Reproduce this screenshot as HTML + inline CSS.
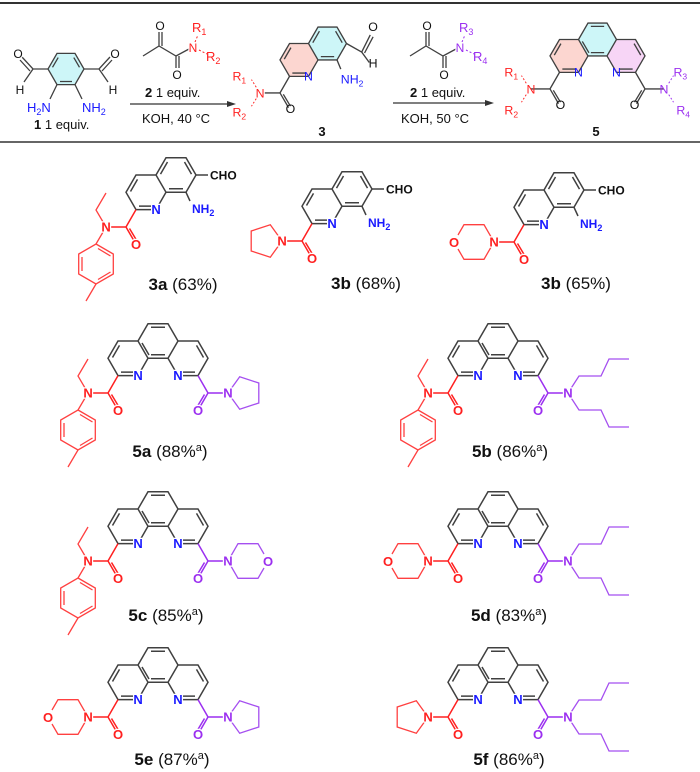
<!DOCTYPE html>
<html><head><meta charset="utf-8"><style>
html,body{margin:0;padding:0;background:#fff;}
svg{display:block;font-family:"Liberation Sans",sans-serif;}
.a{font-size:12px;text-anchor:middle;stroke:#fff;stroke-width:2.5;paint-order:stroke;stroke-linejoin:round;}
g .a{font-size:13px;font-weight:bold;}
.b{fill:#1a1aff}.r{fill:#ff2020}.p{fill:#9b2ff0}.k{fill:#111}
.lab{font-size:17px;text-anchor:middle;fill:#111}
.s{font-size:13px;fill:#111}
</style></head><body>
<svg width="700" height="772" viewBox="0 0 700 772" xmlns="http://www.w3.org/2000/svg">
<defs>
<path id="quin" fill="none" d="M10,-17.3 L20,0 L10,17.3 L-10,17.3 L-20,0 L-10,-17.3 Z M-10,17.3 L-20,34.6 L-40,34.6 L-50,17.3 L-40,0 L-20,0 M8.5,-12.95 L15.5,-0.85 M7,13.8 L-7,13.8 M-8.5,-12.95 L-15.5,-0.85 M-45.5,16.45 L-38.5,4.35 M-37,31.1 L-23,31.1"/>
<path id="phen" fill="none" d="M-10,-17.3 L10,-17.3 L20,0 L10,17.3 L-10,17.3 L-20,0 Z M-20,0 L-40,0 L-50,17.3 L-40,34.6 L-20,34.6 L-10,17.3 M20,0 L40,0 L50,17.3 L40,34.6 L20,34.6 L10,17.3 M-7,-13.8 L7,-13.8 M-7,13.8 L7,13.8 M-45.5,16.45 L-38.5,4.35 M-37,31.1 L-23,31.1 M45.5,16.45 L38.5,4.35 M37,31.1 L23,31.1 M-16,2 L-9,14"/>
<path id="amL" fill="none" d="M-40,34.6 L-50,52 L-41,67.5 M-46.5,53.5 L-39,66 M-50,52 L-70,52"/>
<path id="amR" fill="none" d="M40,34.6 L50,52 L41,67.5 M46.5,53.5 L39,66 M50,52 L70,52"/>
<path id="etolL" fill="none" d="M-70,52 L-80,35 L-70,18 M-70,52 L-80,69 M-80,69 L-62.7,79 L-62.7,99 L-80,109 L-97.3,99 L-97.3,79 Z M-80,109 L-90,126 M-78,73.5 L-65.5,81 M-65.5,97 L-78,104.5 M-94,82 L-94,96"/>
<path id="pyrL" fill="none" d="M-70,52 L-81.7,68.2 L-100.8,62 L-100.8,42 L-81.7,35.8 Z"/>
<path id="pyrR" fill="none" d="M70,52 L81.7,68.2 L100.8,62 L100.8,42 L81.7,35.8 Z"/>
<path id="morL" fill="none" d="M-106,45 L-100,34.7 L-80,34.7 L-70,52 L-80,69.3 L-100,69.3 L-106,59"/>
<path id="morR" fill="none" d="M106,45 L100,34.7 L80,34.7 L70,52 L80,69.3 L100,69.3 L106,59"/>
<path id="buR" fill="none" d="M70,52 L81,35 L103,35 L111,18 L131,18 M70,52 L81,69 L103,69 L111,86 L131,86"/>
</defs>

<line x1="0" y1="3" x2="700" y2="3" stroke="#333" stroke-width="2"/>
<line x1="0" y1="142" x2="700" y2="142" stroke="#333" stroke-width="1.6"/>

<!-- compound 1 -->
<g stroke="#404040" stroke-width="1.3" fill="none">
<polygon points="57,53.4 75,53.4 84,69 75,84.6 57,84.6 48,69" fill="#cdf6f8"/>
<path d="M73.8,57.6 L79.5,67.3 M58.2,57.6 L52.5,67.3 M60,81.5 L72,81.5 M48,69 L33,69 L22,57 M30,71 L20,60 M33,69 L24,82 M84,69 L99,69 L110,57 M102,71 L112,60 M99,69 L108,82 M57,84.6 L50,99 M75,84.6 L82,99"/>
</g>
<text x="18" y="58" class="a k" font-size="13">O</text>
<text x="115" y="58" class="a k" font-size="13">O</text>
<text x="20" y="94" class="a k" font-size="13">H</text>
<text x="113" y="94" class="a k" font-size="13">H</text>
<text x="27" y="112" class="b" font-size="13">H<tspan font-size="9" dy="3">2</tspan><tspan dy="-3">N</tspan></text>
<text x="82" y="112" class="b" font-size="13">NH<tspan font-size="9" dy="3">2</tspan></text>
<text x="34" y="129" class="s"><tspan font-weight="bold">1</tspan>  1 equiv.</text>

<!-- reagent 2 (first) -->
<g stroke="#404040" stroke-width="1.3" fill="none">
<path d="M143,56 L159,46 L176,56 L189,49 M159,46 L159,32 M162,46 L162,32 M176,56 L176,68 M179,56 L179,68"/>
</g>
<g stroke="#ff2020" stroke-width="1" stroke-dasharray="2,2" fill="none"><path d="M195,42 L198,35 M199,50 L207,54"/></g>
<text x="160" y="30" class="a k" font-size="13">O</text>
<text x="177" y="79" class="a k" font-size="13">O</text>
<text x="193" y="52" class="a r" font-size="13">N</text>
<text x="192" y="32" class="r" font-size="13">R<tspan font-size="9" dy="3">1</tspan></text>
<text x="206" y="61" class="r" font-size="13">R<tspan font-size="9" dy="3">2</tspan></text>
<text x="145" y="97" class="s"><tspan font-weight="bold">2</tspan>  1 equiv.</text>
<line x1="130" y1="104" x2="229" y2="104" stroke="#333" stroke-width="1.2"/>
<polygon points="236,104 227,101 227,107" fill="#333"/>
<text x="142" y="123" class="s">KOH, 40 °C</text>

<!-- compound 3 (top) -->
<g transform="translate(327.5,43.5) scale(0.95)">
<polygon points="-10,17.3 -20,34.6 -40,34.6 -50,17.3 -40,0 -20,0" fill="#fcd6d0"/>
<polygon points="10,-17.3 20,0 10,17.3 -10,17.3 -20,0 -10,-17.3" fill="#cdf6f8"/>
<use href="#quin" stroke="#404040" stroke-width="1.4"/>
<path d="M20,0 L36,9 L45,-9 M39,10 L48,-7 M36,9 L44,20 M10,17.3 L14,27 M-40,34.6 L-50,52 L-41,67.5 M-46.5,53.5 L-39,66 M-50,52 L-66,52" stroke="#404040" stroke-width="1.4" fill="none"/>
<path d="M-75,46 L-80,38 M-75,58 L-80,66" stroke="#ff2020" stroke-width="1" stroke-dasharray="2,2" fill="none"/>
<text x="-20" y="39" class="b" font-size="13" text-anchor="middle">N</text>
<text x="48" y="-13" class="k" font-size="13" text-anchor="middle">O</text>
<text x="48" y="25" class="k" font-size="13" text-anchor="middle">H</text>
<text x="14" y="42" class="b" font-size="13">NH<tspan font-size="9" dy="3">2</tspan></text>
<text x="-39" y="73" class="k" font-size="13" text-anchor="middle">O</text>
<text x="-71" y="57" class="r" font-size="13" text-anchor="middle">N</text>
<text x="-100" y="39" class="r" font-size="13">R<tspan font-size="9" dy="3">1</tspan></text>
<text x="-100" y="77" class="r" font-size="13">R<tspan font-size="9" dy="3">2</tspan></text>
</g>
<text x="322" y="136" class="s" font-weight="bold" text-anchor="middle">3</text>

<!-- reagent 2 (second) -->
<g stroke="#404040" stroke-width="1.3" fill="none">
<path d="M410,56 L426,46 L443,56 L456,49 M426,46 L426,32 M429,46 L429,32 M443,56 L443,68 M446,56 L446,68"/>
</g>
<g stroke="#9b2ff0" stroke-width="1" stroke-dasharray="2,2" fill="none"><path d="M462,42 L465,35 M466,50 L474,54"/></g>
<text x="427" y="30" class="a k" font-size="13">O</text>
<text x="444" y="79" class="a k" font-size="13">O</text>
<text x="460" y="52" class="a p" font-size="13">N</text>
<text x="459" y="32" class="p" font-size="13">R<tspan font-size="9" dy="3">3</tspan></text>
<text x="473" y="61" class="p" font-size="13">R<tspan font-size="9" dy="3">4</tspan></text>
<text x="410" y="97" class="s"><tspan font-weight="bold">2</tspan>  1 equiv.</text>
<line x1="393" y1="103" x2="487" y2="103" stroke="#333" stroke-width="1.2"/>
<polygon points="494,103 485,100 485,106" fill="#333"/>
<text x="401" y="123" class="s">KOH, 50 °C</text>

<!-- compound 5 (top) -->
<g transform="translate(597.5,39.5) scale(0.95)">
<polygon points="-20,0 -40,0 -50,17.3 -40,34.6 -20,34.6 -10,17.3" fill="#fcd6d0"/>
<polygon points="-10,-17.3 10,-17.3 20,0 10,17.3 -10,17.3 -20,0" fill="#cdf6f8"/>
<polygon points="20,0 40,0 50,17.3 40,34.6 20,34.6 10,17.3" fill="#f7d5f6"/>
<use href="#phen" stroke="#404040" stroke-width="1.4"/>
<use href="#amL" stroke="#404040" stroke-width="1.4"/>
<use href="#amR" stroke="#404040" stroke-width="1.4"/>
<path d="M-75,46 L-80,38 M-75,58 L-80,66" stroke="#ff2020" stroke-width="1" stroke-dasharray="2,2" fill="none"/>
<path d="M75,46 L80,38 M75,58 L80,66" stroke="#9b2ff0" stroke-width="1" stroke-dasharray="2,2" fill="none"/>
<text x="-20" y="39" class="b" font-size="13" text-anchor="middle">N</text>
<text x="20" y="39" class="b" font-size="13" text-anchor="middle">N</text>
<text x="-39" y="73" class="k" font-size="13" text-anchor="middle">O</text>
<text x="39" y="73" class="k" font-size="13" text-anchor="middle">O</text>
<text x="-70" y="57" class="r" font-size="13" text-anchor="middle">N</text>
<text x="70" y="57" class="p" font-size="13" text-anchor="middle">N</text>
<text x="-98" y="39" class="r" font-size="13">R<tspan font-size="9" dy="3">1</tspan></text>
<text x="-98" y="79" class="r" font-size="13">R<tspan font-size="9" dy="3">2</tspan></text>
<text x="80" y="39" class="p" font-size="13">R<tspan font-size="9" dy="3">3</tspan></text>
<text x="83" y="79" class="p" font-size="13">R<tspan font-size="9" dy="3">4</tspan></text>
</g>
<text x="596" y="136" class="s" font-weight="bold" text-anchor="middle">5</text>

<!-- 3a -->
<g transform="translate(176,175)">
<use href="#quin" stroke="#404040" stroke-width="1.5"/>
<path d="M20,0 L32,0 M10,17.3 L14,26" stroke="#404040" stroke-width="1.5"/>
<use href="#amL" stroke="#ff2020" stroke-width="1.5"/>
<use href="#etolL" stroke="#ff4040" stroke-width="1.3"/>
<text x="-20" y="39" class="a b">N</text>
<text x="-40" y="74" class="a r">O</text>
<text x="-70" y="56.5" class="a r">N</text>
<text x="34" y="4.5" class="k" font-size="12" font-weight="bold">CHO</text>
<text x="16" y="38" class="b" font-size="12" font-weight="bold">NH<tspan font-size="9" dy="3">2</tspan></text>
</g>
<text x="183" y="290" class="lab"><tspan font-weight="bold">3a</tspan> (63%)</text>

<!-- 3b -->
<g transform="translate(352,189)">
<use href="#quin" stroke="#404040" stroke-width="1.5"/>
<path d="M20,0 L32,0 M10,17.3 L14,26" stroke="#404040" stroke-width="1.5"/>
<use href="#amL" stroke="#ff2020" stroke-width="1.5"/>
<use href="#pyrL" stroke="#ff4040" stroke-width="1.3"/>
<text x="-20" y="39" class="a b">N</text>
<text x="-40" y="74" class="a r">O</text>
<text x="-70" y="56.5" class="a r">N</text>
<text x="34" y="4.5" class="k" font-size="12" font-weight="bold">CHO</text>
<text x="16" y="38" class="b" font-size="12" font-weight="bold">NH<tspan font-size="9" dy="3">2</tspan></text>
</g>
<text x="366" y="289" class="lab"><tspan font-weight="bold">3b</tspan> (68%)</text>

<!-- 3b' -->
<g transform="translate(564,190)">
<use href="#quin" stroke="#404040" stroke-width="1.5"/>
<path d="M20,0 L32,0 M10,17.3 L14,26" stroke="#404040" stroke-width="1.5"/>
<use href="#amL" stroke="#ff2020" stroke-width="1.5"/>
<use href="#morL" stroke="#ff4040" stroke-width="1.3"/>
<text x="-20" y="39" class="a b">N</text>
<text x="-40" y="74" class="a r">O</text>
<text x="-70" y="56.5" class="a r">N</text>
<text x="-110" y="57" class="a r">O</text>
<text x="34" y="4.5" class="k" font-size="12" font-weight="bold">CHO</text>
<text x="16" y="38" class="b" font-size="12" font-weight="bold">NH<tspan font-size="9" dy="3">2</tspan></text>
</g>
<text x="576" y="289" class="lab"><tspan font-weight="bold">3b</tspan> (65%)</text>

<!-- 5a -->
<g transform="translate(158,341)">
<use href="#phen" stroke="#404040" stroke-width="1.5"/>
<use href="#amL" stroke="#ff2020" stroke-width="1.5"/>
<use href="#etolL" stroke="#ff4040" stroke-width="1.3"/>
<use href="#amR" stroke="#9b2ff0" stroke-width="1.5"/>
<use href="#pyrR" stroke="#a54ff0" stroke-width="1.3"/>
<text x="-20" y="39" class="a b">N</text><text x="20" y="39" class="a b">N</text>
<text x="-40" y="74" class="a r">O</text><text x="40" y="74" class="a p">O</text>
<text x="-70" y="56.5" class="a r">N</text><text x="70" y="56.5" class="a p">N</text>
</g>
<text x="170" y="457" class="lab"><tspan font-weight="bold">5a</tspan> (88%<tspan font-size="11" dy="-6">a</tspan><tspan dy="6">)</tspan></text>

<!-- 5b -->
<g transform="translate(498,341)">
<use href="#phen" stroke="#404040" stroke-width="1.5"/>
<use href="#amL" stroke="#ff2020" stroke-width="1.5"/>
<use href="#etolL" stroke="#ff4040" stroke-width="1.3"/>
<use href="#amR" stroke="#9b2ff0" stroke-width="1.5"/>
<use href="#buR" stroke="#a54ff0" stroke-width="1.3"/>
<text x="-20" y="39" class="a b">N</text><text x="20" y="39" class="a b">N</text>
<text x="-40" y="74" class="a r">O</text><text x="40" y="74" class="a p">O</text>
<text x="-70" y="56.5" class="a r">N</text><text x="70" y="56.5" class="a p">N</text>
</g>
<text x="510" y="457" class="lab"><tspan font-weight="bold">5b</tspan> (86%<tspan font-size="11" dy="-6">a</tspan><tspan dy="6">)</tspan></text>

<!-- 5c -->
<g transform="translate(158,509)">
<use href="#phen" stroke="#404040" stroke-width="1.5"/>
<use href="#amL" stroke="#ff2020" stroke-width="1.5"/>
<use href="#etolL" stroke="#ff4040" stroke-width="1.3"/>
<use href="#amR" stroke="#9b2ff0" stroke-width="1.5"/>
<use href="#morR" stroke="#a54ff0" stroke-width="1.3"/>
<text x="-20" y="39" class="a b">N</text><text x="20" y="39" class="a b">N</text>
<text x="-40" y="74" class="a r">O</text><text x="40" y="74" class="a p">O</text>
<text x="-70" y="56.5" class="a r">N</text><text x="70" y="56.5" class="a p">N</text>
<text x="110" y="57" class="a p">O</text>
</g>
<text x="166" y="621" class="lab"><tspan font-weight="bold">5c</tspan> (85%<tspan font-size="11" dy="-6">a</tspan><tspan dy="6">)</tspan></text>

<!-- 5d -->
<g transform="translate(498,509)">
<use href="#phen" stroke="#404040" stroke-width="1.5"/>
<use href="#amL" stroke="#ff2020" stroke-width="1.5"/>
<use href="#morL" stroke="#ff4040" stroke-width="1.3"/>
<use href="#amR" stroke="#9b2ff0" stroke-width="1.5"/>
<use href="#buR" stroke="#a54ff0" stroke-width="1.3"/>
<text x="-20" y="39" class="a b">N</text><text x="20" y="39" class="a b">N</text>
<text x="-40" y="74" class="a r">O</text><text x="40" y="74" class="a p">O</text>
<text x="-70" y="56.5" class="a r">N</text><text x="70" y="56.5" class="a p">N</text>
<text x="-110" y="57" class="a r">O</text>
</g>
<text x="509" y="621" class="lab"><tspan font-weight="bold">5d</tspan> (83%<tspan font-size="11" dy="-6">a</tspan><tspan dy="6">)</tspan></text>

<!-- 5e -->
<g transform="translate(158,665)">
<use href="#phen" stroke="#404040" stroke-width="1.5"/>
<use href="#amL" stroke="#ff2020" stroke-width="1.5"/>
<use href="#morL" stroke="#ff4040" stroke-width="1.3"/>
<use href="#amR" stroke="#9b2ff0" stroke-width="1.5"/>
<use href="#pyrR" stroke="#a54ff0" stroke-width="1.3"/>
<text x="-20" y="39" class="a b">N</text><text x="20" y="39" class="a b">N</text>
<text x="-40" y="74" class="a r">O</text><text x="40" y="74" class="a p">O</text>
<text x="-70" y="56.5" class="a r">N</text><text x="70" y="56.5" class="a p">N</text>
<text x="-110" y="57" class="a r">O</text>
</g>
<text x="172" y="765" class="lab"><tspan font-weight="bold">5e</tspan> (87%<tspan font-size="11" dy="-6">a</tspan><tspan dy="6">)</tspan></text>

<!-- 5f -->
<g transform="translate(498,665)">
<use href="#phen" stroke="#404040" stroke-width="1.5"/>
<use href="#amL" stroke="#ff2020" stroke-width="1.5"/>
<use href="#pyrL" stroke="#ff4040" stroke-width="1.3"/>
<use href="#amR" stroke="#9b2ff0" stroke-width="1.5"/>
<use href="#buR" stroke="#a54ff0" stroke-width="1.3"/>
<text x="-20" y="39" class="a b">N</text><text x="20" y="39" class="a b">N</text>
<text x="-40" y="74" class="a r">O</text><text x="40" y="74" class="a p">O</text>
<text x="-70" y="56.5" class="a r">N</text><text x="70" y="56.5" class="a p">N</text>
</g>
<text x="509" y="765" class="lab"><tspan font-weight="bold">5f</tspan> (86%<tspan font-size="11" dy="-6">a</tspan><tspan dy="6">)</tspan></text>
</svg>
</body></html>
